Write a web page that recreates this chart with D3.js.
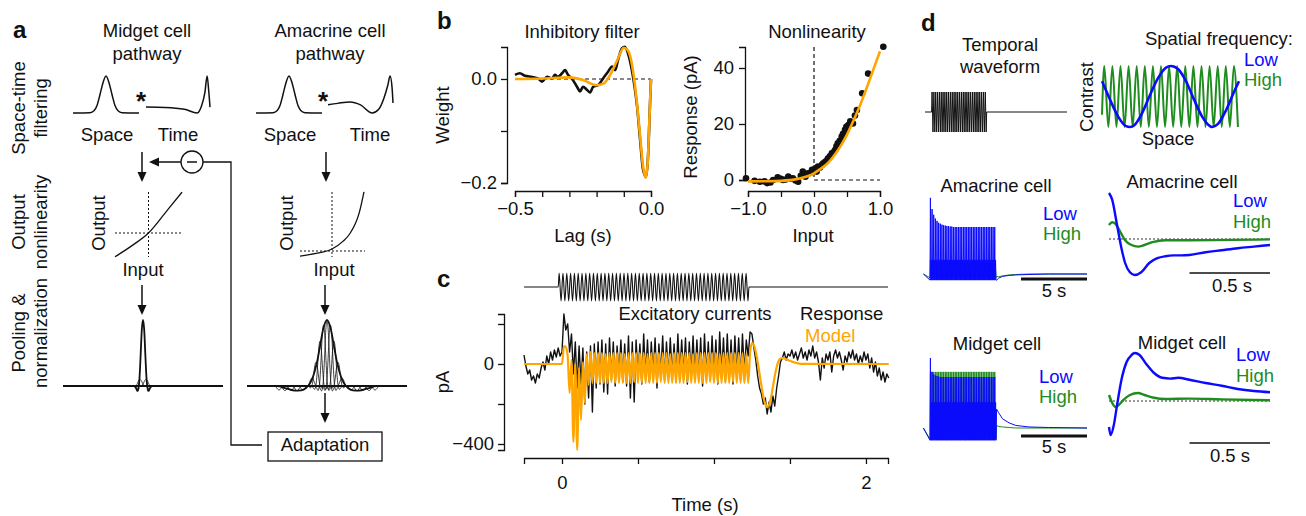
<!DOCTYPE html>
<html>
<head>
<meta charset="utf-8">
<script src="https://cdn.jsdelivr.net/npm/d3@7"></script>
<style>
  body { margin: 0; background: #fff; }
  svg { display: block; font-family: "Liberation Sans", Arial, sans-serif; }
</style>
</head>
<body>
<script>
// ---------------- data ----------------
// panel a: schematic filter shapes (normalised)
const spaceOffset = [-33,-16,-12,-9,-6,-3,0,3,6,9,12,16,33];
const spaceProfile = [0,0.01,0.06,0.2,0.5,0.82,1,0.82,0.5,0.2,0.06,0.01,0];
const midTimeT = [0,0.3,0.6,0.8,0.87,0.92,0.955,0.98,1];
const midTimeV = [0.16,0.15,0.1,0,0.2,0.55,1,0.6,0.16];
const amaTimeT = [0,0.15,0.34,0.5,0.68,0.78,0.86,0.92,0.955,0.985,1];
const amaTimeV = [0.22,0.26,0.3,0.22,0,0.1,0.4,0.75,1,0.7,0.27];
const midNlIn = [-1,-0.46,0,0.57,1];
const midNlOut = [-0.7,-0.35,0,0.68,1.2];
const amaNlIn = [-1,-0.5,0,0.35,0.55,0.85,1];
const amaNlOut = [-0.15,-0.07,0.06,0.29,0.5,1.12,1.74];
const kernelOffset = [-9,-7,-5.5,-4.5,-3.5,-2.5,-1.2,0,1.2,2.5,3.5,4.5,5.5,7,9];
const kernelShape = [0,-0.03,-0.075,-0.03,0.12,0.42,0.85,1,0.85,0.42,0.12,-0.03,-0.075,-0.03,0];
const midPoolCenter = [-3,0,3];
const midPoolHeight = [0.1,1,0.1];
const amaPoolCenter = [-15,-11,-7,-3.5,0,3.5,7,11,15,-48,-42,-36,-30,-24,24,30,36,42,48];
const amaPoolHeight = [0.12,0.36,0.68,0.92,1,0.92,0.68,0.36,0.12,-0.06,-0.07,-0.07,-0.07,-0.06,-0.06,-0.07,-0.07,-0.07,-0.06];
const amaEnvOffset = [-80,-50,-40,-32,-26,-21,-17,-14,-10,-7,-4,0,4,7,10,14,17,21,26,32,40,50,80];
const amaEnvValue = [0,0,-0.04,-0.07,-0.065,-0.03,0.04,0.14,0.36,0.6,0.85,1,0.85,0.6,0.36,0.14,0.04,-0.03,-0.065,-0.07,-0.04,0,0];

// panel b: inhibitory filter
const filterLag = [-0.5,-0.482,-0.463,-0.437,-0.415,-0.401,-0.382,-0.364,-0.353,-0.342,-0.327,-0.316,-0.305,-0.29,-0.272,-0.261,-0.25,-0.235,-0.224,-0.213,-0.195,-0.176,-0.158,-0.143,-0.132,-0.121,-0.107,-0.096,-0.085,-0.066,-0.051,-0.04,-0.029,-0.018,-0.011,-0.004,0];
const filterWeight = [0.008,0.011,0.006,0.004,0.001,-0.005,0.004,0.001,0.008,0.004,0.011,0.017,0.008,0,-0.015,-0.024,-0.015,-0.021,-0.026,-0.015,-0.012,0.001,0.014,0.024,0.017,0.037,0.059,0.062,0.05,0.004,-0.053,-0.117,-0.175,-0.188,-0.15,-0.053,0];
const fitLag = [-0.5,-0.4,-0.3,-0.25,-0.2,-0.175,-0.15,-0.125,-0.1,-0.085,-0.07,-0.055,-0.04,-0.03,-0.02,-0.012,-0.006,0];
const fitWeight = [0,0.001,0.003,-0.002,-0.012,-0.009,0.008,0.035,0.06,0.055,0.028,-0.03,-0.11,-0.165,-0.19,-0.16,-0.08,0];
const lagTicks = [-0.5,-0.4,-0.3,-0.2,-0.1,0];
const lagLabels = ['\u22120.5','','','','','0.0'];
const weightTicks = [0,-0.1,-0.2];
const weightLabels = ['0.0','','\u22120.2'];

// panel b: nonlinearity
const nlInput = [-1.03,-0.9,-0.82,-0.75,-0.71,-0.66,-0.62,-0.55,-0.5,-0.47,-0.43,-0.39,-0.35,-0.32,-0.28,-0.24,-0.2,-0.17,-0.13,-0.09,-0.06,-0.03,0,0.02,0.04,0.06,0.09,0.12,0.14,0.17,0.19,0.21,0.24,0.27,0.3,0.32,0.34,0.36,0.39,0.42,0.44,0.47,0.49,0.52,0.55,0.59,0.62,0.65,0.73,0.82,1.05];
const nlResp = [0.6,-0.3,-0.6,-0.5,-1.1,-0.9,0,1,0.4,0,0.2,1.2,0.5,0.6,-0.2,-0.6,1.5,3,1.2,2.4,2.5,3.6,3.5,4.2,3,4.8,4.5,5.4,6,6.5,6.8,7.7,8.5,9.5,10,10.7,12,13.1,14,15.5,16.5,17.9,19,19.6,21,20.2,23,25,31,38,47.6];
const nlFitIn = [-1,-0.75,-0.5,-0.25,0,0.1,0.2,0.3,0.4,0.5,0.6,0.7,0.8,0.9,1.0];
const nlFitOut = [-0.5,-0.45,-0.3,0.4,2.4,4,5.8,8.6,12,16.2,21.3,26.8,33,39.5,46];
const inputTicks = [-1,-0.5,0,0.5,1];
const inputLabels = ['\u22121.0','','0.0','','1.0'];
const respTicks = [0,20,40];
const respLabels = ['0','20','40'];

// panel c: excitatory currents (pA), sampled every 12.5 ms
const sampleStep = 0.0125;
const respPre = [45,-10,-50,-30,-80,-60,-95,-50,-70,-20,10,-30,40,0,60,20,70,35,80,40];
const respStim = [60,250,170,200,60,150,-50,110,-120,90,-100,80,-200,60,-170,90,-240,100,-120,110,
  -100,120,-140,100,-150,130,-80,110,-110,90,-60,120,-90,100,-110,140,-170,110,-190,120,
  -60,100,-100,150,-70,120,-90,110,-60,130,-120,100,-50,140,-80,110,-70,130,-60,100,
  -90,150,-70,120,-60,130,-100,110,-60,140,-80,120,-70,130,-110,150,-60,110,-80,140,
  -70,120,-100,160,-60,130,-90,150,-70,120,-100,140,-60,130,-80,150,-50,120,40,160];
const respPost = [150,80,20,-60,-120,-150,-200,-170,-250,-190,-240,-160,-210,-120,-60,10,30,60,20,50,
  40,70,30,60,20,50,80,30,60,20,70,40,90,30,60,10,-80,30,-20,50,
  20,60,-40,40,70,30,60,20,-30,40,10,60,30,70,20,50,0,40,10,60,
  20,50,-20,30,-40,10,-60,-20,-80,-40,-90,-50,-70];
const modelPreT = [-0.25,0];
const modelPre = [0,0];
const modelStim = [0,90,85,40,-145,20,-390,0,-430,-20,-280,10,-195,50,-105,60,-95,55,-95,55,
  -95,55,-95,50,-95,55,-90,55,-95,55,-95,55,-95,50,-95,55,-95,55,-90,55,
  -95,55,-95,55,-95,50,-95,55,-95,55,-95,55,-90,55,-95,55,-95,50,-95,55,
  -95,55,-95,55,-95,55,-90,55,-95,50,-95,55,-95,55,-95,55,-95,55,-90,55,
  -95,55,-95,50,-95,55,-95,55,-95,55,-90,55,-95,55,-95,55,-95,50,-95,55];
const modelPostT = [1.25,1.2625,1.275,1.2875,1.3,1.3125,1.325,1.3375,1.35,1.3625,1.375,1.3875,1.4,1.4125,1.425,1.4375,1.45,1.4625,1.475,1.4875,1.5,1.5125,1.525,1.5375,1.55,1.5625,1.575,2.15];
const modelPost = [105,95,60,10,-50,-110,-165,-200,-215,-205,-170,-115,-60,-15,15,28,30,28,24,20,16,12,9,6,4,2,1,0];
const stimOn = -0.025, stimOff = 1.23;
const stimExtremes = [1,-1,1,-1,1,-1,1,-1,1,-1,1,-1,1,-1,1,-1,1,-1,1,-1,1,-1,1,-1,1,-1,1,-1,1,-1,
  1,-1,1,-1,1,-1,1,-1,1,-1,1,-1,1,-1,1,-1,1,-1,1,-1,1,-1,1,-1,1,-1,1,-1,1,-1,
  1,-1,1,-1,1,-1,1,-1,1,-1,1,-1,1,-1,1,-1,1,-1,1,-1,1,-1,1,-1,1,-1,1,-1,1,-1,
  1,-1,1,-1,1,-1,1,-1,1,-1];
const timeTicks = [0,0.5,1,1.5,2];
const timeLabels = ['0','','','','2'];
const paTicks = [200,0,-200,-400];
const paLabels = ['','0','','\u2212400'];

// panel d: stimuli
const waveExtremes = [1,-1,1,-1,1,-1,1,-1,1,-1,1,-1,1,-1,1,-1,1,-1,1,-1,1,-1,1,-1,1,-1,1,-1,1,-1,
  1,-1,1,-1,1,-1,1,-1,1,-1,1,-1,1,-1,1,-1,1,-1,1,-1,1,-1,1,-1,1,-1,1,-1,1,-1];
const lowSpacePos = [0,8,16,24,28,32,40,48,56,64,69,76,84,92,100,108,110,116,124,132,137];
const lowSpace = [0.5,-0.1,-0.65,-0.97,-1,-0.95,-0.55,0.05,0.6,0.95,1,0.9,0.5,-0.1,-0.65,-0.97,-1,-0.9,-0.45,0.15,0.5];
const highSpaceStart = -0.6;
const highSpace = [1,-1,1,-1,1,-1,1,-1,1,-1,1,-1,1,-1,1,-1,1,-1,1,-1,1,-1,1,-1,1,-1,1,-1,1,-1,1,-1,1,-1];

// panel d: responses (normalised), blocks of spikes during the 5 s stimulus
const amaLowSpikes = [1.62,1.38,1.26,1.18,1.13,1.09,1.07,1.05,1.04,1.03,1.02,1.02,1.01,1.01,1,1,1,1,1,1,1,1,1,1,1,1,1,1,1,1,1,1,1,1,1,1,1,1,1,1];
const amaHighSpikes = [0.3,0.28,0.27,0.26,0.25,0.25,0.25,0.25,0.25,0.25,0.25,0.25,0.25,0.25,0.25,0.25,0.25,0.25,0.25,0.25,0.25,0.25,0.25,0.25,0.25,0.25,0.25,0.25,0.25,0.25,0.25,0.25,0.25,0.25,0.25,0.25,0.25,0.25,0.25,0.25];
const midLowSpikes = [1.37,1.1,1.05,1.03,1.02,1.01,1,1,1,1,1,1,1,1,1,1,1,1,1,1,1,1,1,1,1,1,1,1,1,1,1,1,1,1,1,1,1,1,1,1];
const midHighSpikes = [1.1,1.1,1.1,1.1,1.1,1.1,1.1,1.1,1.1,1.1,1.1,1.1,1.1,1.1,1.1,1.1,1.1,1.1,1.1,1.1,1.1,1.1,1.1,1.1,1.1,1.1,1.1,1.1,1.1,1.1,1.1,1.1,1.1,1.1,1.1,1.1,1.1,1.1,1.1,1.1];
const postT = [5.05,5.2,5.5,6,6.5,7.5,9,11.9];
const amaLowPost = [-0.13,-0.09,-0.05,-0.03,-0.02,-0.01,0,0];
const amaHighPost = [-0.05,-0.06,-0.04,-0.02,-0.01,0,0,0];
const midLowPost = [0.37,0.3,0.18,0.1,0.05,0.02,0.01,0];
const midHighPost = [0.05,0.03,0.02,0.01,0,0,0,0];

// panel d: mean responses over 1 s
const meanT = [0,0.02,0.05,0.08,0.1,0.13,0.16,0.2,0.25,0.3,0.35,0.4,0.45,0.5,0.6,0.7,0.8,0.9,1.0];
const amaLowMean = [1.15,0.98,0.35,-0.28,-0.6,-0.83,-0.9,-0.83,-0.6,-0.48,-0.43,-0.41,-0.41,-0.4,-0.33,-0.28,-0.23,-0.19,-0.15];
const amaHighT = [0,0.02,0.04,0.07,0.1,0.14,0.18,0.22,0.27,0.35,0.5,1.0];
const amaHighMean = [0.35,0.42,0.38,0.18,-0.03,-0.15,-0.19,-0.15,-0.08,-0.03,-0.03,-0.01];
const midLowT = [0,0.01,0.03,0.05,0.08,0.11,0.14,0.16,0.19,0.23,0.28,0.33,0.38,0.43,0.5,0.6,0.7,0.8,0.9,1.0];
const midLowMean = [-0.65,-0.85,-0.6,-0.1,0.58,0.98,1.15,1.2,1.15,0.93,0.7,0.58,0.56,0.58,0.53,0.45,0.38,0.3,0.25,0.22];
const midHighT = [0,0.02,0.04,0.06,0.09,0.13,0.18,0.22,0.28,0.35,0.5,0.7,1.0];
const midHighMean = [0.15,-0.05,-0.15,-0.1,0.03,0.15,0.2,0.15,0.08,0.05,0.06,0.04,0.02];

const ORANGE = '#ffa500', BLUE = '#0a0aff', GREEN = '#1e8c1e', INK = '#111';
const FS = 18.5;

// ---------------- helpers ----------------
const svg = d3.select('body').append('svg').attr('width', 1306).attr('height', 516);

function label(x, y, str, o = {}) {
  const t = svg.append('text')
    .attr('x', x).attr('y', y)
    .attr('font-size', o.size || FS)
    .attr('text-anchor', o.anchor || 'middle')
    .attr('fill', o.color || INK)
    .text(str);
  if (o.bold) t.attr('font-weight', 'bold');
  if (o.rotate) t.attr('transform', `rotate(-90,${x},${y})`);
  return t;
}

function trace(xs, ys, sx, sy, color, width, curve = d3.curveMonotoneX) {
  const gen = d3.line().x(d => sx(d[0])).y(d => sy(d[1])).curve(curve);
  return svg.append('path')
    .attr('d', gen(d3.zip(xs, ys)))
    .attr('fill', 'none')
    .attr('stroke', color)
    .attr('stroke-width', width)
    .attr('stroke-linejoin', 'round');
}

function seg(x1, y1, x2, y2, o = {}) {
  return svg.append('line')
    .attr('x1', x1).attr('y1', y1).attr('x2', x2).attr('y2', y2)
    .attr('stroke', o.color || INK)
    .attr('stroke-width', o.width || 1.3)
    .attr('stroke-dasharray', o.dash || null);
}

function arrow(x1, y1, x2, y2) {
  const len = Math.hypot(x2 - x1, y2 - y1), ux = (x2 - x1) / len, uy = (y2 - y1) / len;
  const hl = 10, hw = 4.5;
  seg(x1, y1, x2 - ux * hl, y2 - uy * hl, { width: 1.5 });
  const bx = x2 - ux * hl, by = y2 - uy * hl;
  svg.append('path')
    .attr('d', `M${x2},${y2}L${bx - uy * hw},${by + ux * hw}L${bx + uy * hw},${by - ux * hw}Z`)
    .attr('fill', INK);
}

function axis(gen, tx, ty, labels) {
  const g = svg.append('g')
    .attr('transform', `translate(${tx},${ty})`)
    .call(gen.tickSizeOuter(0).tickSize(6).tickFormat((d, i) => labels[i]));
  g.attr('font-family', null).attr('font-size', FS);
  g.selectAll('path, line').attr('stroke', INK).attr('stroke-width', 1.3);
  g.selectAll('text').attr('fill', INK);
  return g;
}

// ---------------- panel a ----------------
label(13, 38, 'a', { size: 24, bold: true, anchor: 'start' });
label(147, 37, 'Midget cell');
label(147, 60, 'pathway');
label(330, 37, 'Amacrine cell');
label(330, 60, 'pathway');

label(25, 108, 'Space-time', { rotate: true });
label(47, 108, 'filtering', { rotate: true });
label(25, 222, 'Output', { rotate: true });
label(47, 222, 'nonlinearity', { rotate: true });
label(25, 333, 'Pooling &', { rotate: true });
label(47, 333, 'normalization', { rotate: true });

const filterY = d3.scaleLinear().domain([0, 1]).range([113, 76]);
const midSpaceX = d3.scaleLinear().domain([-33, 33]).range([73, 139]);
const amaSpaceX = d3.scaleLinear().domain([-33, 33]).range([256, 322]);
const midTimeX = d3.scaleLinear().domain([0, 1]).range([146, 210]);
const amaTimeX = d3.scaleLinear().domain([0, 1]).range([328, 393]);
trace(spaceOffset, spaceProfile, midSpaceX, filterY, INK, 1.5);
trace(spaceOffset, spaceProfile, amaSpaceX, filterY, INK, 1.5);
trace(midTimeT, midTimeV, midTimeX, filterY, INK, 1.5);
trace(amaTimeT, amaTimeV, amaTimeX, filterY, INK, 1.5);
label(141, 110, '*', { size: 26, bold: true });
label(323, 110, '*', { size: 26, bold: true });
label(107, 141, 'Space');
label(178, 141, 'Time');
label(290, 141, 'Space');
label(370, 141, 'Time');

arrow(142, 152, 142, 182);
arrow(326, 152, 326, 182);
svg.append('circle').attr('cx', 192).attr('cy', 162).attr('r', 11)
  .attr('fill', 'none').attr('stroke', INK).attr('stroke-width', 1.3);
seg(187, 162, 197, 162, { width: 1.5 });
arrow(181, 162, 149, 162);
svg.append('path').attr('d', 'M203,162H231V445H262')
  .attr('fill', 'none').attr('stroke', INK).attr('stroke-width', 1.3);
svg.append('rect').attr('x', 268).attr('y', 432).attr('width', 114).attr('height', 29)
  .attr('fill', 'none').attr('stroke', INK).attr('stroke-width', 1.3);
label(325, 451, 'Adaptation');

// output nonlinearities
const midNlX = d3.scaleLinear().domain([-1, 1]).range([115, 182]);
const midNlY = d3.scaleLinear().domain([0, 1]).range([233, 199]);
const amaNlX = d3.scaleLinear().domain([-1, 1]).range([300, 364]);
const amaNlY = d3.scaleLinear().domain([0, 1]).range([251, 217]);
seg(midNlX(0), 192, midNlX(0), 257, { width: 1, dash: '2,2' });
seg(115, midNlY(0), 182, midNlY(0), { width: 1, dash: '2,2' });
seg(amaNlX(0), 192, amaNlX(0), 257, { width: 1, dash: '2,2' });
seg(300, amaNlY(0), 365, amaNlY(0), { width: 1, dash: '2,2' });
trace(midNlIn, midNlOut, midNlX, midNlY, INK, 1.3);
trace(amaNlIn, amaNlOut, amaNlX, amaNlY, INK, 1.3);
label(105, 223, 'Output', { rotate: true });
label(293, 223, 'Output', { rotate: true });
label(143, 276, 'Input');
label(334, 276, 'Input');
arrow(142, 285, 142, 315);
arrow(325, 285, 325, 315);

// pooling
const poolY = d3.scaleLinear().domain([0, 1]).range([386, 320]);
const midPoolX = d3.scaleLinear().domain([-80, 80]).range([63, 223]);
const amaPoolX = d3.scaleLinear().domain([-80, 80]).range([247, 407]);
seg(63, 386, 223, 386, { width: 2 });
seg(247, 386, 407, 386, { width: 2 });
midPoolCenter.forEach((c, i) => {
  trace(kernelOffset.map(o => o + c), kernelShape.map(v => v * midPoolHeight[i]), midPoolX, poolY, INK, i === 1 ? 1.8 : 0.8);
});
amaPoolCenter.forEach((c, i) => {
  trace(kernelOffset.map(o => o + c), kernelShape.map(v => v * amaPoolHeight[i]), amaPoolX, poolY, INK, 0.8);
});
trace(amaEnvOffset, amaEnvValue, amaPoolX, poolY, INK, 1.8);
arrow(325, 393, 325, 423);

// ---------------- panel b ----------------
label(437, 29, 'b', { size: 24, bold: true, anchor: 'start' });
label(582, 38, 'Inhibitory filter');
label(817, 38, 'Nonlinearity');

const xLag = d3.scaleLinear().domain([-0.5, 0]).range([515, 651]);
const yW = d3.scaleLinear().domain([-0.2, 0.0615]).range([183, 47]);
axis(d3.axisBottom(xLag).tickValues(lagTicks).tickPadding(5), 0, 191, lagLabels);
axis(d3.axisLeft(yW).tickValues(weightTicks).tickPadding(4), 507, 0, weightLabels);
seg(515, yW(0), 651, yW(0), { width: 1.2, dash: '4,3' });
trace(filterLag, filterWeight, xLag, yW, INK, 2.6);
trace(fitLag, fitWeight, xLag, yW, ORANGE, 2.6);
label(449, 115, 'Weight', { rotate: true });
label(583, 242, 'Lag (s)');

const xIn = d3.scaleLinear().domain([-1, 1]).range([748, 880]);
const yR = d3.scaleLinear().domain([0, 47.5]).range([180, 47]);
axis(d3.axisBottom(xIn).tickValues(inputTicks).tickPadding(5), 0, 191, inputLabels);
axis(d3.axisLeft(yR).tickValues(respTicks).tickPadding(5), 745, 0, respLabels);
seg(xIn(0), 47, xIn(0), 180, { width: 1.2, dash: '4,3' });
seg(xIn(0), 180, 880, 180, { width: 1.2, dash: '4,3' });
svg.append('g').selectAll('circle')
  .data(d3.zip(nlInput, nlResp))
  .enter()
  .append('circle')
  .attr('cx', d => xIn(d[0]))
  .attr('cy', d => yR(d[1]))
  .attr('r', 3.3)
  .attr('fill', INK);
trace(nlFitIn, nlFitOut, xIn, yR, ORANGE, 2.6);
label(697, 117, 'Response (pA)', { rotate: true });
label(813, 242, 'Input');

// ---------------- panel c ----------------
label(437, 287, 'c', { size: 24, bold: true, anchor: 'start' });
const xT = d3.scaleLinear().domain([-0.25, 2.145]).range([524, 888]);
const yC = d3.scaleLinear().domain([-430, 250]).range([450, 314]);
const yStim = d3.scaleLinear().domain([-1, 1]).range([301, 273]);

const halfCycle = (stimOff - stimOn) / stimExtremes.length;
const stimT = [-0.25, stimOn].concat(stimExtremes.map((_, i) => stimOn + (i + 0.5) * halfCycle), [stimOff, 2.145]);
const stimV = [0, 0].concat(stimExtremes, [0, 0]);
trace(stimT, stimV, xT, yStim, INK, 1.1);

axis(d3.axisBottom(xT).tickValues(timeTicks).tickPadding(12), 0, 458, timeLabels);
axis(d3.axisLeft(yC).tickValues(paTicks).tickPadding(4), 504, 0, paLabels);

const respT = respPre.map((_, i) => -0.25 + i * sampleStep)
  .concat(respStim.map((_, i) => i * sampleStep), respPost.map((_, i) => 1.25 + i * sampleStep));
trace(respT, respPre.concat(respStim, respPost), xT, yC, INK, 1.4, d3.curveLinear);
const modelT = modelPreT.slice(0, 1).concat(respStim.map((_, i) => i * sampleStep), modelPostT);
trace(modelT, modelPre.slice(0, 1).concat(modelStim, modelPost), xT, yC, ORANGE, 2.2);

label(695, 320, 'Excitatory currents');
label(800, 320, 'Response', { anchor: 'start' });
label(805, 342, 'Model', { anchor: 'start', color: ORANGE });
label(449, 382, 'pA', { rotate: true });
label(705, 511, 'Time (s)');

// ---------------- panel d ----------------
label(921, 31, 'd', { size: 24, bold: true, anchor: 'start' });
label(1000, 51, 'Temporal');
label(1000, 73, 'waveform');
const twX = d3.scaleLinear().domain([-0.6, 12.3]).range([925, 1067]);
const twY = d3.scaleLinear().domain([-1, 1]).range([132, 92]);
const waveStep = 5 / waveExtremes.length;
trace([-0.6, 0].concat(waveExtremes.map((_, i) => (i + 0.5) * waveStep), [5, 12.3]),
  [0, 0].concat(waveExtremes, [0, 0]), twX, twY, INK, 1, d3.curveLinear);

const spX = d3.scaleLinear().domain([0, 137]).range([1102, 1239]);
const spY = d3.scaleLinear().domain([-1, 1]).range([127, 66]);
const highStep = 4.05;
trace([0].concat(highSpace.map((_, i) => 2.3 + i * highStep)), [highSpaceStart].concat(highSpace), spX, spY, GREEN, 2);
trace(lowSpacePos, lowSpace, spX, spY, BLUE, 2.6);
label(1093, 97, 'Contrast', { rotate: true });
label(1168, 145, 'Space');
label(1293, 45, 'Spatial frequency:', { anchor: 'end' });
label(1244, 66, 'Low', { anchor: 'start', color: BLUE });
label(1244, 86, 'High', { anchor: 'start', color: GREEN });

// spike blocks
function block(spikes, trough, mid, post, sx, sy, color) {
  const dt = 5 / spikes.length;
  const ts = [-0.5, 0], vs = [0, trough];
  spikes.forEach((s, i) => {
    ts.push(i * dt + dt * 0.25, i * dt + dt * 0.5, i * dt + dt * 0.75, (i + 1) * dt);
    vs.push(s, trough, mid, trough);
  });
  trace(ts.concat(postT), vs.concat(post), sx, sy, color, 1, d3.curveLinear);
}
const blkX = d3.scaleLinear().domain([-0.5, 11.9]).range([923.4, 1087]);
const amaY = d3.scaleLinear().domain([0, 1]).range([274, 227]);
const midY = d3.scaleLinear().domain([0, 1]).range([428, 377]);
block(amaHighSpikes, -0.08, 0.1, amaHighPost, blkX, amaY, GREEN);
block(amaLowSpikes, -0.13, 0.3, amaLowPost, blkX, amaY, BLUE);
block(midHighSpikes, -0.22, 0.5, midHighPost, blkX, midY, GREEN);
block(midLowSpikes, -0.24, 0.5, midLowPost, blkX, midY, BLUE);
seg(blkX(6.9), 279, blkX(11.9), 279, { width: 3 });
seg(blkX(6.9), 436, blkX(11.9), 436, { width: 3 });
label(1054, 297, '5 s');
label(1054, 453, '5 s');
label(996, 192, 'Amacrine cell');
label(997, 350, 'Midget cell');
label(1043, 220, 'Low', { anchor: 'start', color: BLUE });
label(1043, 240, 'High', { anchor: 'start', color: GREEN });
label(1039, 383, 'Low', { anchor: 'start', color: BLUE });
label(1039, 403, 'High', { anchor: 'start', color: GREEN });

// mean responses
const rX = d3.scaleLinear().domain([0, 1]).range([1109, 1270]);
const amaRY = d3.scaleLinear().domain([0, 1]).range([239, 199]);
const midRY = d3.scaleLinear().domain([0, 1]).range([401, 361]);
seg(rX(0), amaRY(0), rX(1), amaRY(0), { width: 1, dash: '2,2', color: '#333' });
seg(rX(0), midRY(0), rX(1), midRY(0), { width: 1, dash: '2,2', color: '#333' });
trace(amaHighT, amaHighMean, rX, amaRY, GREEN, 2.4);
trace(meanT, amaLowMean, rX, amaRY, BLUE, 2.4);
trace(midHighT, midHighMean, rX, midRY, GREEN, 2.4);
trace(midLowT, midLowMean, rX, midRY, BLUE, 2.4);
seg(rX(0.5), 273, rX(1), 273, { width: 1.5 });
seg(rX(0.5), 443, rX(1), 443, { width: 1.5 });
label(1232, 292, '0.5 s');
label(1230, 462, '0.5 s');
label(1182, 188, 'Amacrine cell');
label(1182, 349, 'Midget cell');
label(1233, 207, 'Low', { anchor: 'start', color: BLUE });
label(1233, 228, 'High', { anchor: 'start', color: GREEN });
label(1236, 361, 'Low', { anchor: 'start', color: BLUE });
label(1236, 382, 'High', { anchor: 'start', color: GREEN });
</script>
</body>
</html>
